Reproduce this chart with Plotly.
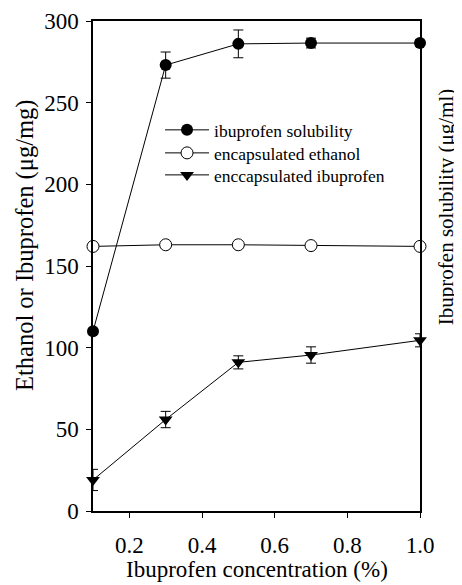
import plotly.graph_objects as go

conc = [0.1, 0.3, 0.5, 0.7, 1.0]
solubility = [110, 273, 286, 286.5, 286.5]
solubility_err = [0, 8, 8.5, 3, 2]
ethanol = [162, 163, 163, 162.5, 162]
ibuprofen_enc = [19, 56, 91, 95.5, 104.5]
ibuprofen_err = [6.5, 5, 4, 5, 4]

x_ticks = [0.2, 0.4, 0.6, 0.8, 1.0]
x_ticktext = ["0.2", "0.4", "0.6", "0.8", "1.0"]
y_ticks = [0, 50, 100, 150, 200, 250, 300]

FONT = "Liberation Serif, Times New Roman, serif"

fig = go.Figure()
fig.add_trace(go.Scatter(
    x=conc, y=solubility, name="ibuprofen solubility", mode="lines+markers",
    line=dict(color="black", width=1),
    marker=dict(symbol="circle", size=12, color="black"),
    error_y=dict(type="data", array=solubility_err, color="black", thickness=1, width=5),
    cliponaxis=False, legend="legend",
))
fig.add_trace(go.Scatter(
    x=conc, y=ethanol, name="encapsulated ethanol", mode="lines+markers",
    line=dict(color="black", width=1),
    marker=dict(symbol="circle", size=12, color="white", line=dict(color="black", width=1)),
    cliponaxis=False, legend="legend2",
))
fig.add_trace(go.Scatter(
    x=conc, y=ibuprofen_enc, name="enccapsulated ibuprofen", mode="lines+markers",
    line=dict(color="black", width=1),
    marker=dict(symbol="triangle-down", size=12, color="black"),
    error_y=dict(type="data", array=ibuprofen_err, color="black", thickness=1, width=5),
    cliponaxis=False, legend="legend3",
))

leg_common = dict(x=0.205, xanchor="left", yanchor="middle",
                  bgcolor="rgba(0,0,0,0)", font=dict(size=17.5, family=FONT),
                  itemwidth=44)

fig.update_layout(
    width=454, height=577,
    margin=dict(l=85, r=42, t=13, b=74),
    paper_bgcolor="white", plot_bgcolor="white",
    font=dict(family=FONT, color="black", size=23),
    showlegend=True,
    legend=dict(y=0.7776, **leg_common),
    legend2=dict(y=0.7306, **leg_common),
    legend3=dict(y=0.6857, **leg_common),
    xaxis=dict(range=[0.1, 1.0], tickvals=x_ticks, ticktext=x_ticktext,
               ticks="outside", ticklen=5, tickwidth=1, tickcolor="black",
               ticklabelstandoff=8,
               showline=True, linecolor="black", linewidth=1.5, mirror=True,
               showgrid=False, zeroline=False, automargin=False),
    yaxis=dict(range=[0, 300], tickvals=y_ticks,
               ticks="outside", ticklen=5, tickwidth=1, tickcolor="black",
               ticklabelstandoff=3,
               showline=True, linecolor="black", linewidth=1.5, mirror=True,
               showgrid=False, zeroline=False, automargin=False),
    annotations=[
        dict(text="Ibuprofen concentration (%)", xref="paper", yref="paper",
             x=0.5015, y=-0.1204, xanchor="center", yanchor="middle",
             showarrow=False, font=dict(size=23, family=FONT)),
        dict(text="Ethanol or Ibuprofen (μg/mg)", xref="paper", yref="paper",
             x=-0.208, y=0.5429, xanchor="center", yanchor="middle",
             textangle=-90, showarrow=False, font=dict(size=24.5, family=FONT)),
        dict(text="Ibuprofen solubility (μg/ml)", xref="paper", yref="paper",
             x=1.08, y=0.6204, xanchor="center", yanchor="middle",
             textangle=-90, showarrow=False, font=dict(size=21, family=FONT)),
    ],
)

fig.write_html("out.html")
